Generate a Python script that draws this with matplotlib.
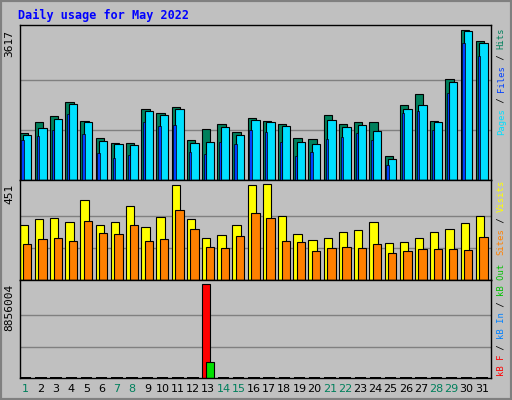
import matplotlib.pyplot as plt
from matplotlib.patches import Rectangle
import numpy as np

days = list(range(1, 32))
weekend = [1, 7, 8, 14, 15, 21, 22, 28, 29]

hits = [1137, 1391, 1530, 1874, 1408, 1015, 892, 892, 1702, 1604, 1751, 966, 1236, 1358, 1162, 1481,
        1408, 1358, 1015, 990, 1555, 1358, 1383, 1383, 573, 1800, 2079, 1408, 2439, 3617, 3347]
files = [1088, 1260, 1457, 1825, 1383, 941, 867, 843, 1653, 1555, 1702, 892, 917, 1285, 1088, 1432,
         1383, 1309, 917, 867, 1432, 1285, 1334, 1187, 499, 1702, 1800, 1383, 2365, 3592, 3298]
pages = [966, 1064, 1211, 1579, 1113, 646, 524, 597, 1383, 1309, 1334, 671, 622, 917, 867, 1211,
         1162, 917, 573, 671, 990, 1039, 1137, 966, 352, 1604, 1653, 1211, 2095, 3298, 2979]
visits = [260, 284, 289, 270, 377, 260, 270, 348, 250, 294, 446, 284, 196, 211, 260, 446,
          451, 299, 216, 186, 196, 225, 235, 270, 172, 176, 196, 225, 240, 265, 299]
sites = [167, 191, 196, 181, 279, 221, 216, 260, 181, 191, 328, 240, 157, 152, 206, 314,
         289, 181, 176, 137, 152, 157, 152, 167, 127, 137, 147, 147, 147, 142, 201]
kb_f = [0] * 12 + [8856004] + [0] * 18
kb_in = [0] * 12 + [1530000] + [0] * 18

BG = '#C0C0C0'
W, H = 512, 400
fig = plt.figure(figsize=(5.12, 4.0), dpi=100, facecolor=BG)
fig.patches.append(Rectangle((0, 0), 1, 1, transform=fig.transFigure, fc='none', ec='#808080', lw=3))
fig.text(18 / W, 1 - 15 / H, 'Daily usage for May 2022', color='#0000FF', fontsize=8.5,
         fontweight='bold', family='DejaVu Sans Mono', va='center')

def panel(top, bottom):
    ax = fig.add_axes([20 / W, 1 - bottom / H, 471 / W, (bottom - top) / H], facecolor=BG)
    ax.set_xlim(0.62, 31.6)
    ax.set_xticks([])
    ax.set_yticks([])
    for s in ax.spines.values():
        s.set_color('black')
        s.set_linewidth(1)
    return ax

def grid(ax, ymax):
    for f in (1 / 3, 2 / 3):
        ax.axhline(ymax * f, color='#808080', lw=1, zorder=0)

x = np.array(days)
EC = dict(edgecolor='black', linewidth=0.8, zorder=2)

ax1 = panel(24.5, 180)
ax1.set_ylim(0, 3617 * 457 / 442)
grid(ax1, 3617)
ax1.bar(x - 0.13, hits, width=0.55, color='#00805C', **EC)
ax1.bar(x + 0.1, files, width=0.55, color='#00E0FF', **EC)
ax1.bar(x - 0.21, pages, width=0.15, color='#0040FF', edgecolor='black', linewidth=0.5, zorder=3)

ax2 = panel(180, 280)
ax2.set_ylim(0, 451 * 287 / 276)
grid(ax2, 451)
ax2.bar(x - 0.13, visits, width=0.55, color='#FFFF00', **EC)
ax2.bar(x + 0.1, sites, width=0.55, color='#FF8000', **EC)

ax3 = panel(280, 378)
ax3.set_ylim(0, 8856004 * 283 / 272)
grid(ax3, 8856004)
ax3.bar(x - 0.13, kb_f, width=0.55, color='#FF0000', **EC)
ax3.bar(x + 0.1, kb_in, width=0.55, color='#00E000', **EC)
ax3.bar(x, [90000] * 31, width=0.75, color='black', zorder=1)

for ax, lab, ymax in ((ax1, '3617', 3617), (ax2, '451', 451), (ax3, '8856004', 8856004)):
    ax.text(-0.012, ymax, lab, transform=ax.get_yaxis_transform(), rotation=90, ha='right',
            va='top', fontsize=8, family='DejaVu Sans Mono')

for d in days:
    ax3.text(d, -0.06, str(d), transform=ax3.get_xaxis_transform(), ha='center', va='top',
             fontsize=8, family='DejaVu Sans', color='#00805C' if d in weekend else 'black')

def side_label(ax, parts, anchor_y, top):
    # parts from bottom to top, stacked along y in points
    step = 3.85
    total = sum(len(t) for t, _ in parts)
    off = -total * step if top else 0
    for t, c in parts:
        ax.annotate(t, xy=(1.012, anchor_y), xycoords='axes fraction', xytext=(0, off),
                    textcoords='offset points', rotation=90, ha='left', va='bottom',
                    fontsize=6.4, family='DejaVu Sans Mono', color=c, annotation_clip=False)
        off += len(t) * step

side_label(ax1, [('Pages', '#00E0FF'), (' / ', 'black'), ('Files', '#0040FF'), (' / ', 'black'),
                 ('Hits', '#00805C')], 0.98, True)
side_label(ax2, [('Sites', '#FF8000'), (' / ', 'black'), ('Visits', '#FFFF00')], 1.0, True)
side_label(ax3, [('kB F', '#FF0000'), (' / ', 'black'), ('kB In', '#0080FF'), (' / ', 'black'),
                 ('kB Out', '#00C000')], 0.02, False)

fig.savefig('out.png', dpi=100, facecolor=BG)
